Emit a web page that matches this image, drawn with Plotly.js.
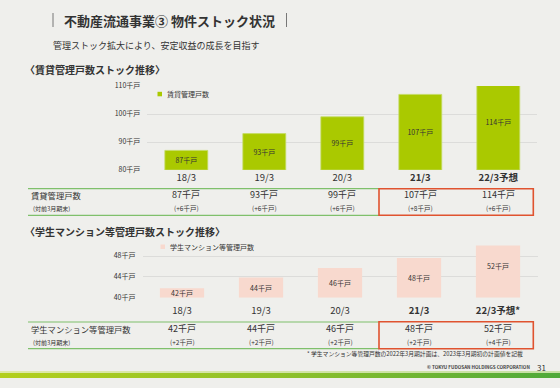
<!DOCTYPE html>
<html>
<head>
<meta charset="utf-8">
<script src="https://cdn.plot.ly/plotly-3.0.1.min.js"></script>
<style>
  html, body { margin: 0; padding: 0; background: #efefec; }
  #wrap { position: relative; width: 560px; height: 388px; }
  #chart { width: 560px; height: 388px; }
  #stripe { position: absolute; left: 0; top: 373px; width: 560px; height: 5px;
            background: linear-gradient(to right, #b3cf1c, #8fc12a 50%, #4ea93a); pointer-events: none; }
  #stripe2 { position: absolute; left: 0; top: 371px; width: 560px; height: 2px;
            background: linear-gradient(to right, #dfe9a8, #c7e0a6); pointer-events: none; }
</style>
</head>
<body>
<div id="wrap">
  <div id="chart"></div>
  <div id="stripe2"></div>
  <div id="stripe"></div>
</div>
<script>
// ---- data ----
const categories = ['18/3', '19/3', '20/3', '21/3', '22/3予想'];
const tickLabels1 = ['18/3', '19/3', '20/3', '<b>21/3</b>', '<b>22/3予想</b>'];
const tickLabels2 = ['18/3', '19/3', '20/3', '<b>21/3</b>', '<b>22/3予想*</b>'];

const rentalUnits = [87, 93, 99, 107, 114];
const rentalLabels = ['87千戸', '93千戸', '99千戸', '107千戸', '114千戸'];
const rentalChange = ['(+6千戸)', '(+6千戸)', '(+6千戸)', '(+8千戸)', '(+6千戸)'];
const rentalTicks = [80, 90, 100, 110];
const rentalTickText = ['80千戸', '90千戸', '100千戸', '110千戸'];

const studentUnits = [41.8, 43.9, 45.7, 47.6, 52];
const studentLabels = ['42千戸', '44千戸', '46千戸', '48千戸', '52千戸'];
const studentChange = ['(+2千戸)', '(+2千戸)', '(+2千戸)', '(+2千戸)', '(+4千戸)'];
const studentTicks = [40, 44, 48];
const studentTickText = ['40千戸', '44千戸', '48千戸'];

const seriesName1 = '賃貸管理戸数';
const seriesName2 = '学生マンション等管理戸数';
const rowSub = '(対前3月期末)';

// ---- helpers (pixel -> paper) ----
const W = 560, H = 388;
const px = v => v / W;
const py = v => 1 - v / H;

const FONT = '"Noto Sans CJK JP", "Noto Sans", sans-serif';
const TXT = '#333333';
const GREEN = '#aac900';
const PINK = '#f8d9ce';
const RED = '#e0532f';
const LINEG = '#7fc06b';

const traces = [
  {
    type: 'bar', x: categories, y: rentalUnits.map(v => v - 80), base: 80, xaxis: 'x', yaxis: 'y',
    name: seriesName1, showlegend: false, width: 0.55,
    marker: { color: GREEN, line: { width: 0.8, color: '#c4dc63' } },
    text: rentalLabels, textposition: 'inside', insidetextanchor: 'middle',
    textangle: 0, constraintext: 'none',
    textfont: { size: 7, color: TXT, family: FONT }, hoverinfo: 'skip'
  },
  {
    type: 'bar', x: categories, y: studentUnits.map(v => v - 40), base: 40, xaxis: 'x2', yaxis: 'y2',
    name: seriesName2, showlegend: false, width: 0.56,
    marker: { color: PINK },
    text: studentLabels, textposition: 'inside', insidetextanchor: 'middle',
    textangle: 0, constraintext: 'none',
    textfont: { size: 7, color: TXT, family: FONT }, hoverinfo: 'skip'
  }
];

const annotations = [];
const shapes = [];

// Titles
shapes.push({ type: 'line', xref: 'paper', yref: 'paper', x0: px(53), x1: px(53), y0: py(13), y1: py(27), line: { color: '#777', width: 1 } });
shapes.push({ type: 'line', xref: 'paper', yref: 'paper', x0: px(286.5), x1: px(286.5), y0: py(13), y1: py(27), line: { color: '#777', width: 1 } });
annotations.push({ xref: 'paper', yref: 'paper', x: px(62), y: py(20), xanchor: 'left', yanchor: 'middle',
  text: '<b>不動産流通事業③ 物件ストック状況</b>', showarrow: false, font: { size: 13, color: TXT, family: FONT } });
annotations.push({ xref: 'paper', yref: 'paper', x: px(51), y: py(45), xanchor: 'left', yanchor: 'middle',
  text: '管理ストック拡大により、安定収益の成長を目指す', showarrow: false, font: { size: 9, color: TXT, family: FONT } });
annotations.push({ xref: 'paper', yref: 'paper', x: px(23), y: py(69), xanchor: 'left', yanchor: 'middle',
  text: '<b>〈賃貸管理戸数ストック推移〉</b>', showarrow: false, font: { size: 10, color: TXT, family: FONT } });
annotations.push({ xref: 'paper', yref: 'paper', x: px(23), y: py(231), xanchor: 'left', yanchor: 'middle',
  text: '<b>〈学生マンション等管理戸数ストック推移〉</b>', showarrow: false, font: { size: 10, color: TXT, family: FONT } });

// Legends (drawn)
shapes.push({ type: 'rect', xref: 'paper', yref: 'paper', x0: px(157.5), x1: px(162), y0: py(96.3), y1: py(91.8),
  fillcolor: GREEN, line: { width: 0 } });
annotations.push({ xref: 'paper', yref: 'paper', x: px(165), y: py(94), xanchor: 'left', yanchor: 'middle',
  text: seriesName1, showarrow: false, font: { size: 7, color: TXT, family: FONT } });
shapes.push({ type: 'rect', xref: 'paper', yref: 'paper', x0: px(160.5), x1: px(165), y0: py(249), y1: py(244.5),
  fillcolor: PINK, line: { width: 0 } });
annotations.push({ xref: 'paper', yref: 'paper', x: px(167.5), y: py(246.7), xanchor: 'left', yanchor: 'middle',
  text: seriesName2, showarrow: false, font: { size: 7, color: TXT, family: FONT } });

// Table 1
annotations.push({ xref: 'paper', yref: 'paper', x: px(29), y: py(194.5), xanchor: 'left', yanchor: 'middle',
  text: seriesName1, showarrow: false, font: { size: 8.3, color: TXT, family: FONT } });
annotations.push({ xref: 'paper', yref: 'paper', x: px(31), y: py(208.3), xanchor: 'left', yanchor: 'middle',
  text: rowSub, showarrow: false, font: { size: 6, color: TXT, family: FONT } });
categories.forEach((c, i) => {
  annotations.push({ xref: 'x', yref: 'paper', x: c, y: py(194.5), xanchor: 'center', yanchor: 'middle',
    text: rentalLabels[i], showarrow: false, font: { size: 9, color: TXT, family: FONT } });
  annotations.push({ xref: 'x', yref: 'paper', x: c, y: py(208.3), xanchor: 'center', yanchor: 'middle',
    text: rentalChange[i], showarrow: false, font: { size: 6.5, color: TXT, family: FONT } });
});
shapes.push({ type: 'line', xref: 'paper', yref: 'paper', x0: px(28), x1: px(379), y0: py(188.7), y1: py(188.7), line: { color: LINEG, width: 1.2 } });
shapes.push({ type: 'line', xref: 'paper', yref: 'paper', x0: px(28), x1: px(379), y0: py(215.3), y1: py(215.3), line: { color: LINEG, width: 1.2 } });
shapes.push({ type: 'rect', xref: 'paper', yref: 'paper', x0: px(379), x1: px(533.3), y0: py(215.3), y1: py(188.7), line: { color: RED, width: 1.6 } });

// Table 2
annotations.push({ xref: 'paper', yref: 'paper', x: px(29), y: py(328.7), xanchor: 'left', yanchor: 'middle',
  text: seriesName2, showarrow: false, font: { size: 8.3, color: TXT, family: FONT } });
annotations.push({ xref: 'paper', yref: 'paper', x: px(31), y: py(342), xanchor: 'left', yanchor: 'middle',
  text: rowSub, showarrow: false, font: { size: 6, color: TXT, family: FONT } });
categories.forEach((c, i) => {
  annotations.push({ xref: 'x2', yref: 'paper', x: c, y: py(328.7), xanchor: 'center', yanchor: 'middle',
    text: studentLabels[i], showarrow: false, font: { size: 9, color: TXT, family: FONT } });
  annotations.push({ xref: 'x2', yref: 'paper', x: c, y: py(342), xanchor: 'center', yanchor: 'middle',
    text: studentChange[i], showarrow: false, font: { size: 6.5, color: TXT, family: FONT } });
});
shapes.push({ type: 'line', xref: 'paper', yref: 'paper', x0: px(28), x1: px(379), y0: py(322), y1: py(322), line: { color: LINEG, width: 1.2 } });
shapes.push({ type: 'line', xref: 'paper', yref: 'paper', x0: px(28), x1: px(379), y0: py(348.7), y1: py(348.7), line: { color: LINEG, width: 1.2 } });
shapes.push({ type: 'rect', xref: 'paper', yref: 'paper', x0: px(379), x1: px(533.3), y0: py(348.7), y1: py(321.7), line: { color: RED, width: 1.6 } });

// Footnotes
annotations.push({ xref: 'paper', yref: 'paper', x: px(525), y: py(353.5), xanchor: 'right', yanchor: 'middle',
  text: '* 学生マンション等管理戸数の2022年3月期計画は、2023年3月期初の計画値を記載', showarrow: false,
  font: { size: 5.8, color: TXT, family: FONT } });
annotations.push({ xref: 'paper', yref: 'paper', x: px(532), y: py(366.8), xanchor: 'right', yanchor: 'middle',
  text: '<b>© TOKYU FUDOSAN HOLDINGS CORPORATION</b>', showarrow: false,
  font: { size: 4.6, color: '#444', family: FONT } });
annotations.push({ xref: 'paper', yref: 'paper', x: px(541), y: py(367), xanchor: 'center', yanchor: 'middle',
  text: '31', showarrow: false, font: { size: 8, color: TXT, family: FONT } });

const layout = {
  width: W, height: H,
  margin: { l: 0, r: 0, t: 0, b: 0 },
  paper_bgcolor: '#efefec', plot_bgcolor: 'rgba(0,0,0,0)',
  font: { family: FONT, color: TXT },
  showlegend: false,
  xaxis: {
    domain: [px(147.3), px(537.3)], anchor: 'y', type: 'category',
    categoryorder: 'array', categoryarray: categories, range: [-0.5, 4.5],
    tickvals: categories, ticktext: tickLabels1, ticks: '', showgrid: false, zeroline: false, showline: false,
    tickfont: { size: 9.5, color: TXT, family: FONT }, ticklabelstandoff: 0, fixedrange: true
  },
  yaxis: {
    domain: [py(170), py(86)], anchor: 'x', range: [80, 110],
    tickvals: rentalTicks, ticktext: rentalTickText, ticks: '',
    showgrid: true, gridcolor: '#dcdcda', gridwidth: 1, zeroline: false, showline: false,
    tickfont: { size: 7, color: TXT, family: FONT }, ticklabelstandoff: 6, fixedrange: true
  },
  xaxis2: {
    domain: [px(142.5), px(537.5)], anchor: 'y2', type: 'category',
    categoryorder: 'array', categoryarray: categories, range: [-0.5, 4.5],
    tickvals: categories, ticktext: tickLabels2, ticks: '', showgrid: false, zeroline: false, showline: false,
    tickfont: { size: 9.5, color: TXT, family: FONT }, ticklabelstandoff: 6, fixedrange: true
  },
  yaxis2: {
    domain: [py(297.7), py(245.6)], anchor: 'x2', range: [40, 50],
    tickvals: studentTicks, ticktext: studentTickText, ticks: '',
    showgrid: true, gridcolor: '#dcdcda', gridwidth: 1, zeroline: false, showline: false,
    tickfont: { size: 7, color: TXT, family: FONT }, ticklabelstandoff: 6, fixedrange: true
  },
  annotations: annotations,
  shapes: shapes
};

Plotly.newPlot('chart', traces, layout, { displayModeBar: false, staticPlot: true });
</script>
</body>
</html>
